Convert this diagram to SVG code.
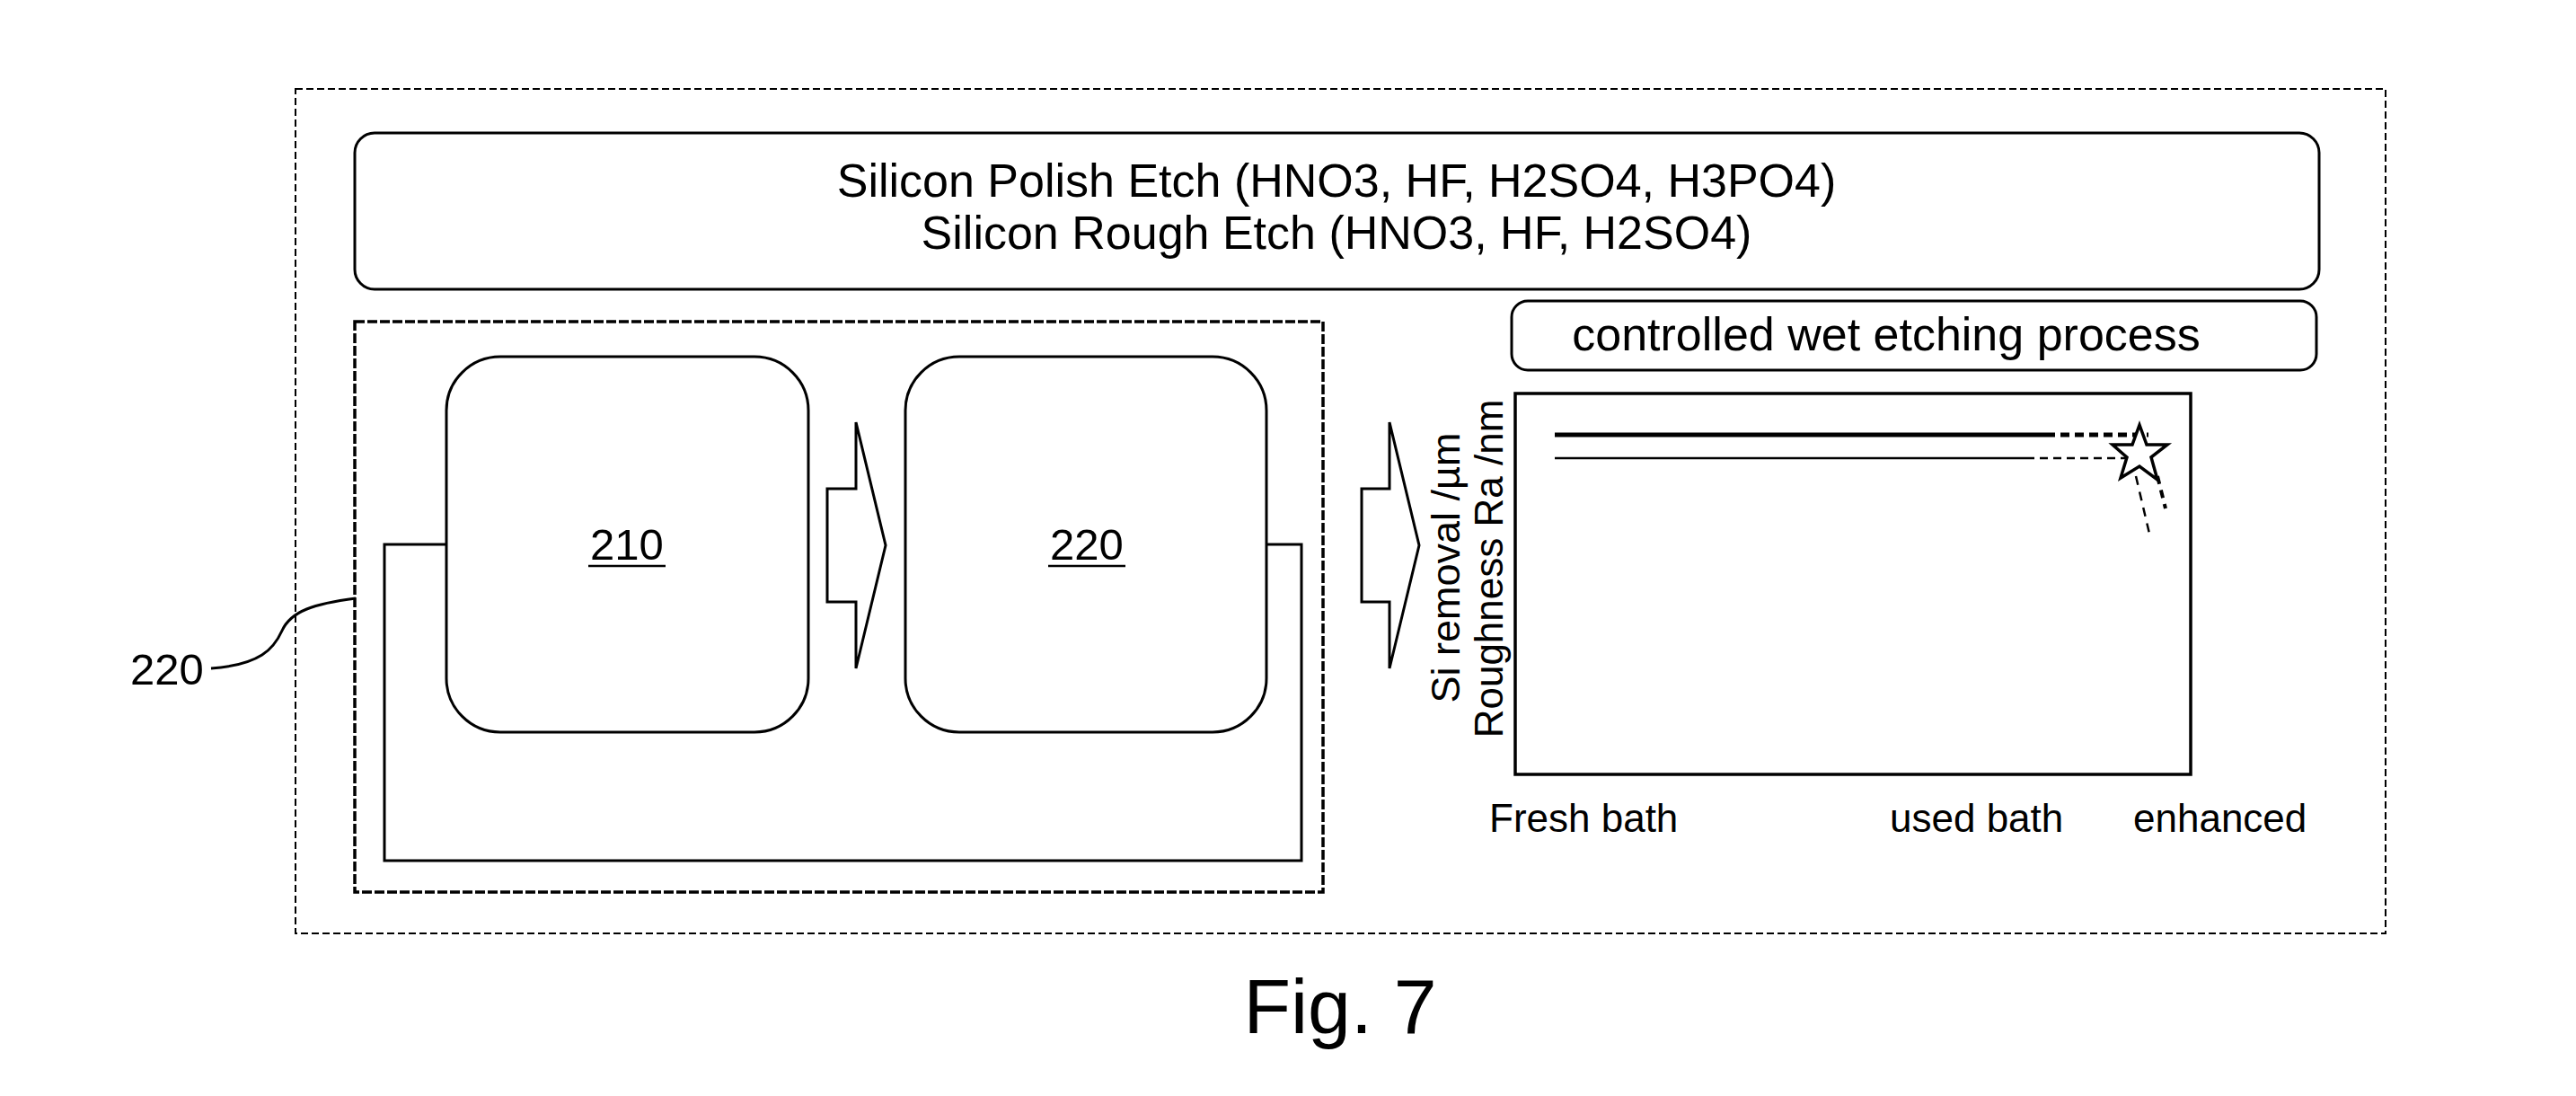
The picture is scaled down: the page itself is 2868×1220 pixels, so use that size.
<svg xmlns="http://www.w3.org/2000/svg" width="2868" height="1220" viewBox="0 0 2868 1220">
  <style>
    .t { font-family: "Liberation Sans", Arial, sans-serif; fill: #000; }
    .ln { fill: none; stroke: #000; stroke-width: 3; }
    .node { fill: #fff; stroke: #000; stroke-width: 3; }
  </style>
  <rect x="0" y="0" width="2868" height="1220" fill="#fff"/>

  <g id="frame">
    <rect x="329" y="99" width="2327" height="940" fill="none" stroke="#000" stroke-width="2" stroke-dasharray="8 4"/>
  </g>

  <g id="chemistry-box">
    <rect x="395" y="148" width="2187" height="174" rx="22" class="node"/>
    <text class="t" x="1488" y="219" font-size="52" text-anchor="middle">Silicon Polish Etch (HNO3, HF, H2SO4, H3PO4)</text>
    <text class="t" x="1488" y="277" font-size="52" text-anchor="middle">Silicon Rough Etch (HNO3, HF, H2SO4)</text>
  </g>

  <g id="process-220-group">
    <rect x="395" y="358" width="1078" height="635" fill="none" stroke="#000" stroke-width="3.5" stroke-dasharray="11 3"/>
  </g>

  <g id="label-220-outer">
    <text class="t" x="145" y="762" font-size="49">220</text>
    <path d="M235,744 C290,740 305,722 314,702 C324,680 350,672 396,666" class="ln" stroke-width="2"/>
  </g>

  <g id="connectors">
    <polyline points="497,606 428,606 428,958 1449,958 1449,606 1410,606" class="ln"/>
    <polygon points="921,544 953,544 953,470 986,607 953,744 953,670 921,670" class="ln"/>
    <polygon points="1516,544 1547,544 1547,470 1580,607 1547,744 1547,670 1516,670" class="ln"/>
  </g>

  <g id="node-210">
    <rect x="497" y="397" width="403" height="418" rx="60" class="node"/>
    <text class="t" x="698" y="623" font-size="49" text-anchor="middle">210</text>
    <line x1="655" y1="630" x2="741" y2="630" stroke="#000" stroke-width="2.5"/>
  </g>

  <g id="node-220">
    <rect x="1008" y="397" width="402" height="418" rx="60" class="node"/>
    <text class="t" x="1210" y="623" font-size="49" text-anchor="middle">220</text>
    <line x1="1167" y1="630" x2="1253" y2="630" stroke="#000" stroke-width="2.5"/>
  </g>

  <g id="process-title">
    <rect x="1683" y="335" width="896" height="77" rx="18" class="node"/>
    <text class="t" x="2100" y="390" font-size="52" text-anchor="middle">controlled wet etching process</text>
  </g>

  <g id="chart">
    <rect x="1687" y="438" width="752" height="424" fill="none" stroke="#000" stroke-width="3.5"/>
    <text class="t" font-size="45" text-anchor="middle" transform="translate(1625,632) rotate(-90)">Si removal /µm</text>
    <text class="t" font-size="44" text-anchor="middle" transform="translate(1673,633) rotate(-90)">Roughness Ra /nm</text>
    <line x1="1731" y1="484" x2="2278" y2="484" stroke="#000" stroke-width="5"/>
    <line x1="2278" y1="484" x2="2392" y2="484" stroke="#000" stroke-width="5" stroke-dasharray="10 6"/>
    <line x1="1731" y1="510" x2="2256" y2="510" stroke="#000" stroke-width="2.5"/>
    <line x1="2256" y1="510" x2="2370" y2="510" stroke="#000" stroke-width="2.5" stroke-dasharray="9 6"/>
    <polygon points="2382,473 2390,495 2413,495 2395,509 2402,534 2382,519 2361,532 2368,509 2352,495 2374,495" fill="#fff" stroke="#000" stroke-width="3.5"/>
    <line x1="2378" y1="530" x2="2393" y2="594" stroke="#000" stroke-width="2.5" stroke-dasharray="10 8"/>
    <line x1="2402" y1="530" x2="2411" y2="566" stroke="#000" stroke-width="4" stroke-dasharray="9 7"/>
    <text class="t" x="1658" y="926" font-size="44">Fresh bath</text>
    <text class="t" x="2104" y="926" font-size="44">used bath</text>
    <text class="t" x="2375" y="926" font-size="44">enhanced</text>
  </g>

  <g id="caption">
    <text class="t" x="1492" y="1150" font-size="86" text-anchor="middle">Fig. 7</text>
  </g>
</svg>
